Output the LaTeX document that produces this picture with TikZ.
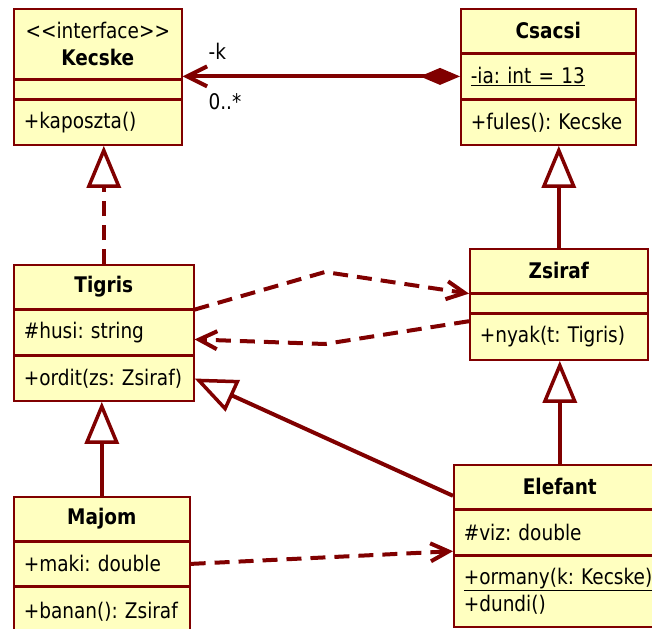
\documentclass[tikz,border=0pt]{standalone}
\usepackage{fontspec}
\setmainfont{DejaVu Sans}[FakeStretch=0.86]
\usetikzlibrary{arrows.meta}

\definecolor{umlred}{RGB}{128,0,0}
\definecolor{umlfill}{RGB}{255,255,192}

\begin{document}
\begin{tikzpicture}[x=1pt,y=-1pt,
	every node/.style={black,font=\fontsize{21.5pt}{27pt}\selectfont\frenchspacing},
	umlpart/.style={draw=umlred,line width=1.6pt,fill=umlfill,anchor=north west,inner xsep=10pt,inner ysep=0pt,align=left},
	umlhead/.style={umlpart,align=center,font=\fontsize{21.5pt}{27pt}\selectfont\bfseries},
	link/.style={umlred,line width=4pt},
	generalize/.style={link,-{Triangle[length=42pt,width=34pt,fill=white,line width=3.5pt]}},
	realize/.style={generalize,dash pattern=on 15pt off 9pt},
	depend/.style={link,dash pattern=on 15pt off 9pt,-{Straight Barb[length=18pt,width=18pt]}},
	compose/.style={link,{Diamond[length=40pt,width=17pt]}-{Straight Barb[length=20pt,width=20pt]}},
	rolelabel/.style={anchor=west,inner sep=0pt}]
	\useasboundingbox (0,0) rectangle (652,628);

	\node[umlhead,text width=148pt,minimum height=70pt] (keH) at (13,8) {{\mdseries{<}{<}interface{>}{>}}\\Kecske};
	\node[umlpart,text width=148pt,minimum height=18pt] (keA) at (keH.south west) {};
	\node[umlpart,text width=148pt,minimum height=45pt] (keO) at (keA.south west) {\mbox{+kaposzta()}};

	\node[umlhead,text width=155pt,minimum height=44pt] (csH) at (460,8) {Csacsi};
	\node[umlpart,text width=155pt,minimum height=44pt] (csA) at (csH.south west) {\mbox{\underline{-ia: int = 13}}};
	\node[umlpart,text width=155pt,minimum height=45pt] (csO) at (csA.south west) {\mbox{+fules(): Kecske}};

	\node[umlhead,text width=160pt,minimum height=44pt] (tgH) at (13,264) {Tigris};
	\node[umlpart,text width=160pt,minimum height=44pt] (tgA) at (tgH.south west) {\mbox{\#husi: string}};
	\node[umlpart,text width=160pt,minimum height=45pt] (tgO) at (tgA.south west) {\mbox{+ordit(zs: Zsiraf)}};

	\node[umlhead,text width=158pt,minimum height=44pt] (zsH) at (469,248) {Zsiraf};
	\node[umlpart,text width=158pt,minimum height=18pt] (zsA) at (zsH.south west) {};
	\node[umlpart,text width=158pt,minimum height=46pt] (zsO) at (zsA.south west) {\mbox{+nyak(t: Tigris)}};

	\node[umlhead,text width=156pt,minimum height=44pt] (mjH) at (13,496) {Majom};
	\node[umlpart,text width=156pt,minimum height=43pt] (mjA) at (mjH.south west) {\mbox{+maki: double}};
	\node[umlpart,text width=156pt,minimum height=50pt] (mjO) at (mjA.south west) {\mbox{+banan(): Zsiraf}};

	\node[umlhead,text width=192pt,minimum height=44pt] (elH) at (453,464) {Elefant};
	\node[umlpart,text width=192pt,minimum height=44pt] (elA) at (elH.south west) {\mbox{\#viz: double}};
	\node[umlpart,text width=192pt,minimum height=71pt] (elO) at (elA.south west) {\mbox{\underline{+ormany(k: Kecske)}}\\\mbox{+dundi()}};

	\coordinate (bendA) at (325,272);
	\coordinate (bendB) at (325,344);

	\draw[compose] (csA.west) -- (csA.west -| keH.east)
		node[rolelabel,xshift=24pt,yshift=25pt] {-k}
		node[rolelabel,xshift=24pt,yshift=-25pt] {0..*};
	\draw[realize] (tgH.north) -- (tgH.north |- keO.south);
	\draw[generalize] (zsH.north) -- (zsH.north |- csO.south);
	\draw[generalize] (mjH.north) -- (mjH.north |- tgO.south);
	\draw[generalize] (elH.north) -- (elH.north |- zsO.south);
	\draw[generalize] ([yshift=-9pt]elH.west) -- (tgO.east);
	\draw[depend] (tgA.north east) -- (bendA) -- (zsA.north west);
	\draw[depend] ([yshift=-8pt]zsO.north west) -- (bendB) -- ([yshift=-7pt]tgA.east);
	\draw[depend] (mjA.east) -- ([yshift=4pt]elA.south west);
\end{tikzpicture}
\end{document}
